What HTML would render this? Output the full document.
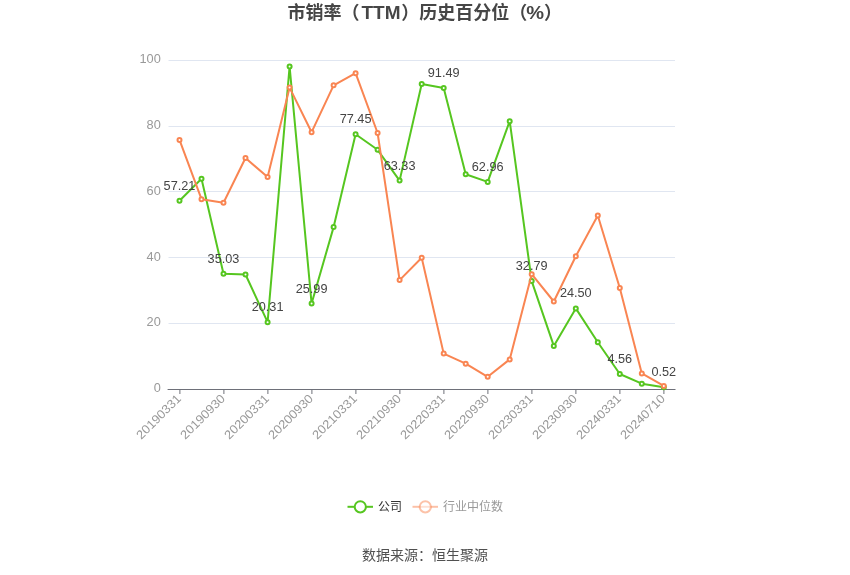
<!DOCTYPE html>
<html lang="zh"><head><meta charset="utf-8"><title>市销率（TTM）历史百分位（%）</title>
<style>
html,body{margin:0;padding:0;background:#fff;}
body{width:850px;height:575px;overflow:hidden;}
svg{display:block;}
text{font-family:"Liberation Sans","Noto Sans CJK SC",sans-serif;}
</style></head><body>
<svg width="850" height="575" viewBox="0 0 850 575">
<rect width="850" height="575" fill="#fff"/>
<text y="18.9" font-size="18" font-weight="bold" fill="#464646"><tspan x="287.6">市销率（</tspan><tspan x="361.5" textLength="39" lengthAdjust="spacingAndGlyphs">TTM</tspan><tspan x="401.3">）历史百分位（</tspan><tspan x="526.2" textLength="17.8" lengthAdjust="spacingAndGlyphs">%</tspan><tspan x="544">）</tspan></text>
<line x1="168.5" x2="675" y1="323.5" y2="323.5" stroke="#e0e6f1" stroke-width="1"/>
<line x1="168.5" x2="675" y1="257.5" y2="257.5" stroke="#e0e6f1" stroke-width="1"/>
<line x1="168.5" x2="675" y1="191.5" y2="191.5" stroke="#e0e6f1" stroke-width="1"/>
<line x1="168.5" x2="675" y1="126.5" y2="126.5" stroke="#e0e6f1" stroke-width="1"/>
<line x1="168.5" x2="675" y1="60.5" y2="60.5" stroke="#e0e6f1" stroke-width="1"/>
<text x="160.8" y="391.8" text-anchor="end" font-size="12" fill="#999" textLength="7.1" lengthAdjust="spacingAndGlyphs">0</text>
<text x="160.8" y="325.8" text-anchor="end" font-size="12" fill="#999" textLength="14.2" lengthAdjust="spacingAndGlyphs">20</text>
<text x="160.8" y="260.8" text-anchor="end" font-size="12" fill="#999" textLength="14.2" lengthAdjust="spacingAndGlyphs">40</text>
<text x="160.8" y="194.8" text-anchor="end" font-size="12" fill="#999" textLength="14.2" lengthAdjust="spacingAndGlyphs">60</text>
<text x="160.8" y="128.8" text-anchor="end" font-size="12" fill="#999" textLength="14.2" lengthAdjust="spacingAndGlyphs">80</text>
<text x="160.8" y="62.8" text-anchor="end" font-size="12" fill="#999" textLength="21.3" lengthAdjust="spacingAndGlyphs">100</text>
<line x1="167.6" x2="675.5" y1="389.5" y2="389.5" stroke="#6e7079" stroke-width="1"/>
<line x1="179.9" x2="179.9" y1="389.5" y2="394" stroke="#6e7079" stroke-width="1"/>
<text transform="translate(178.9,396.5) rotate(-45)" text-anchor="end" font-size="12.3" fill="#999" dy="4.1" textLength="57.3" lengthAdjust="spacingAndGlyphs">20190331</text>
<line x1="223.9" x2="223.9" y1="389.5" y2="394" stroke="#6e7079" stroke-width="1"/>
<text transform="translate(222.9,396.5) rotate(-45)" text-anchor="end" font-size="12.3" fill="#999" dy="4.1" textLength="57.3" lengthAdjust="spacingAndGlyphs">20190930</text>
<line x1="267.9" x2="267.9" y1="389.5" y2="394" stroke="#6e7079" stroke-width="1"/>
<text transform="translate(266.9,396.5) rotate(-45)" text-anchor="end" font-size="12.3" fill="#999" dy="4.1" textLength="57.3" lengthAdjust="spacingAndGlyphs">20200331</text>
<line x1="311.9" x2="311.9" y1="389.5" y2="394" stroke="#6e7079" stroke-width="1"/>
<text transform="translate(310.9,396.5) rotate(-45)" text-anchor="end" font-size="12.3" fill="#999" dy="4.1" textLength="57.3" lengthAdjust="spacingAndGlyphs">20200930</text>
<line x1="355.9" x2="355.9" y1="389.5" y2="394" stroke="#6e7079" stroke-width="1"/>
<text transform="translate(354.9,396.5) rotate(-45)" text-anchor="end" font-size="12.3" fill="#999" dy="4.1" textLength="57.3" lengthAdjust="spacingAndGlyphs">20210331</text>
<line x1="399.9" x2="399.9" y1="389.5" y2="394" stroke="#6e7079" stroke-width="1"/>
<text transform="translate(398.9,396.5) rotate(-45)" text-anchor="end" font-size="12.3" fill="#999" dy="4.1" textLength="57.3" lengthAdjust="spacingAndGlyphs">20210930</text>
<line x1="443.9" x2="443.9" y1="389.5" y2="394" stroke="#6e7079" stroke-width="1"/>
<text transform="translate(442.9,396.5) rotate(-45)" text-anchor="end" font-size="12.3" fill="#999" dy="4.1" textLength="57.3" lengthAdjust="spacingAndGlyphs">20220331</text>
<line x1="487.9" x2="487.9" y1="389.5" y2="394" stroke="#6e7079" stroke-width="1"/>
<text transform="translate(486.9,396.5) rotate(-45)" text-anchor="end" font-size="12.3" fill="#999" dy="4.1" textLength="57.3" lengthAdjust="spacingAndGlyphs">20220930</text>
<line x1="531.9" x2="531.9" y1="389.5" y2="394" stroke="#6e7079" stroke-width="1"/>
<text transform="translate(530.9,396.5) rotate(-45)" text-anchor="end" font-size="12.3" fill="#999" dy="4.1" textLength="57.3" lengthAdjust="spacingAndGlyphs">20230331</text>
<line x1="575.9" x2="575.9" y1="389.5" y2="394" stroke="#6e7079" stroke-width="1"/>
<text transform="translate(574.9,396.5) rotate(-45)" text-anchor="end" font-size="12.3" fill="#999" dy="4.1" textLength="57.3" lengthAdjust="spacingAndGlyphs">20230930</text>
<line x1="619.9" x2="619.9" y1="389.5" y2="394" stroke="#6e7079" stroke-width="1"/>
<text transform="translate(618.9,396.5) rotate(-45)" text-anchor="end" font-size="12.3" fill="#999" dy="4.1" textLength="57.3" lengthAdjust="spacingAndGlyphs">20240331</text>
<line x1="663.9" x2="663.9" y1="389.5" y2="394" stroke="#6e7079" stroke-width="1"/>
<text transform="translate(662.9,396.5) rotate(-45)" text-anchor="end" font-size="12.3" fill="#999" dy="4.1" textLength="57.3" lengthAdjust="spacingAndGlyphs">20240710</text>
<polyline points="179.5,200.8 201.5,178.8 223.5,273.8 245.5,274.5 267.6,322.2 289.6,66.6 311.6,303.5 333.6,227.1 355.6,134.2 377.6,149.8 399.6,180.6 421.7,84.0 443.7,88.0 465.7,174.2 487.7,181.9 509.7,121.2 531.7,281.1 553.8,345.9 575.8,308.4 597.8,342.3 619.8,374.0 641.8,383.7 663.8,387.3" fill="none" stroke="#56c620" stroke-width="2" stroke-linejoin="bevel"/>
<circle cx="179.5" cy="200.8" r="2" fill="#fff" stroke="#56c620" stroke-width="2"/>
<circle cx="201.5" cy="178.8" r="2" fill="#fff" stroke="#56c620" stroke-width="2"/>
<circle cx="223.5" cy="273.8" r="2" fill="#fff" stroke="#56c620" stroke-width="2"/>
<circle cx="245.5" cy="274.5" r="2" fill="#fff" stroke="#56c620" stroke-width="2"/>
<circle cx="267.6" cy="322.2" r="2" fill="#fff" stroke="#56c620" stroke-width="2"/>
<circle cx="289.6" cy="66.6" r="2" fill="#fff" stroke="#56c620" stroke-width="2"/>
<circle cx="311.6" cy="303.5" r="2" fill="#fff" stroke="#56c620" stroke-width="2"/>
<circle cx="333.6" cy="227.1" r="2" fill="#fff" stroke="#56c620" stroke-width="2"/>
<circle cx="355.6" cy="134.2" r="2" fill="#fff" stroke="#56c620" stroke-width="2"/>
<circle cx="377.6" cy="149.8" r="2" fill="#fff" stroke="#56c620" stroke-width="2"/>
<circle cx="399.6" cy="180.6" r="2" fill="#fff" stroke="#56c620" stroke-width="2"/>
<circle cx="421.7" cy="84.0" r="2" fill="#fff" stroke="#56c620" stroke-width="2"/>
<circle cx="443.7" cy="88.0" r="2" fill="#fff" stroke="#56c620" stroke-width="2"/>
<circle cx="465.7" cy="174.2" r="2" fill="#fff" stroke="#56c620" stroke-width="2"/>
<circle cx="487.7" cy="181.9" r="2" fill="#fff" stroke="#56c620" stroke-width="2"/>
<circle cx="509.7" cy="121.2" r="2" fill="#fff" stroke="#56c620" stroke-width="2"/>
<circle cx="531.7" cy="281.1" r="2" fill="#fff" stroke="#56c620" stroke-width="2"/>
<circle cx="553.8" cy="345.9" r="2" fill="#fff" stroke="#56c620" stroke-width="2"/>
<circle cx="575.8" cy="308.4" r="2" fill="#fff" stroke="#56c620" stroke-width="2"/>
<circle cx="597.8" cy="342.3" r="2" fill="#fff" stroke="#56c620" stroke-width="2"/>
<circle cx="619.8" cy="374.0" r="2" fill="#fff" stroke="#56c620" stroke-width="2"/>
<circle cx="641.8" cy="383.7" r="2" fill="#fff" stroke="#56c620" stroke-width="2"/>
<circle cx="663.8" cy="387.3" r="2" fill="#fff" stroke="#56c620" stroke-width="2"/>
<polyline points="179.5,139.9 201.5,199.2 223.5,202.8 245.5,158.0 267.6,177.1 289.6,87.6 311.6,132.2 333.6,85.3 355.6,73.2 377.6,133.0 399.6,280.1 421.7,257.7 443.7,353.6 465.7,363.7 487.7,376.8 509.7,359.4 531.7,274.2 553.8,301.5 575.8,256.2 597.8,215.5 619.8,288.0 641.8,373.4 663.8,385.9" fill="none" stroke="#f98552" stroke-width="2" stroke-linejoin="bevel"/>
<circle cx="179.5" cy="139.9" r="2" fill="#fff" stroke="#f98552" stroke-width="2"/>
<circle cx="201.5" cy="199.2" r="2" fill="#fff" stroke="#f98552" stroke-width="2"/>
<circle cx="223.5" cy="202.8" r="2" fill="#fff" stroke="#f98552" stroke-width="2"/>
<circle cx="245.5" cy="158.0" r="2" fill="#fff" stroke="#f98552" stroke-width="2"/>
<circle cx="267.6" cy="177.1" r="2" fill="#fff" stroke="#f98552" stroke-width="2"/>
<circle cx="289.6" cy="87.6" r="2" fill="#fff" stroke="#f98552" stroke-width="2"/>
<circle cx="311.6" cy="132.2" r="2" fill="#fff" stroke="#f98552" stroke-width="2"/>
<circle cx="333.6" cy="85.3" r="2" fill="#fff" stroke="#f98552" stroke-width="2"/>
<circle cx="355.6" cy="73.2" r="2" fill="#fff" stroke="#f98552" stroke-width="2"/>
<circle cx="377.6" cy="133.0" r="2" fill="#fff" stroke="#f98552" stroke-width="2"/>
<circle cx="399.6" cy="280.1" r="2" fill="#fff" stroke="#f98552" stroke-width="2"/>
<circle cx="421.7" cy="257.7" r="2" fill="#fff" stroke="#f98552" stroke-width="2"/>
<circle cx="443.7" cy="353.6" r="2" fill="#fff" stroke="#f98552" stroke-width="2"/>
<circle cx="465.7" cy="363.7" r="2" fill="#fff" stroke="#f98552" stroke-width="2"/>
<circle cx="487.7" cy="376.8" r="2" fill="#fff" stroke="#f98552" stroke-width="2"/>
<circle cx="509.7" cy="359.4" r="2" fill="#fff" stroke="#f98552" stroke-width="2"/>
<circle cx="531.7" cy="274.2" r="2" fill="#fff" stroke="#f98552" stroke-width="2"/>
<circle cx="553.8" cy="301.5" r="2" fill="#fff" stroke="#f98552" stroke-width="2"/>
<circle cx="575.8" cy="256.2" r="2" fill="#fff" stroke="#f98552" stroke-width="2"/>
<circle cx="597.8" cy="215.5" r="2" fill="#fff" stroke="#f98552" stroke-width="2"/>
<circle cx="619.8" cy="288.0" r="2" fill="#fff" stroke="#f98552" stroke-width="2"/>
<circle cx="641.8" cy="373.4" r="2" fill="#fff" stroke="#f98552" stroke-width="2"/>
<circle cx="663.8" cy="385.9" r="2" fill="#fff" stroke="#f98552" stroke-width="2"/>
<text x="179.5" y="189.8" text-anchor="middle" font-size="12" fill="#444" textLength="31.8" lengthAdjust="spacingAndGlyphs">57.21</text>
<text x="223.5" y="262.8" text-anchor="middle" font-size="12" fill="#444" textLength="31.8" lengthAdjust="spacingAndGlyphs">35.03</text>
<text x="267.6" y="311.2" text-anchor="middle" font-size="12" fill="#444" textLength="31.8" lengthAdjust="spacingAndGlyphs">20.31</text>
<text x="311.6" y="292.5" text-anchor="middle" font-size="12" fill="#444" textLength="31.8" lengthAdjust="spacingAndGlyphs">25.99</text>
<text x="355.6" y="123.2" text-anchor="middle" font-size="12" fill="#444" textLength="31.8" lengthAdjust="spacingAndGlyphs">77.45</text>
<text x="399.6" y="169.6" text-anchor="middle" font-size="12" fill="#444" textLength="31.8" lengthAdjust="spacingAndGlyphs">63.33</text>
<text x="443.7" y="77.0" text-anchor="middle" font-size="12" fill="#444" textLength="31.8" lengthAdjust="spacingAndGlyphs">91.49</text>
<text x="487.7" y="170.9" text-anchor="middle" font-size="12" fill="#444" textLength="31.8" lengthAdjust="spacingAndGlyphs">62.96</text>
<text x="531.7" y="270.1" text-anchor="middle" font-size="12" fill="#444" textLength="31.8" lengthAdjust="spacingAndGlyphs">32.79</text>
<text x="575.8" y="297.4" text-anchor="middle" font-size="12" fill="#444" textLength="31.8" lengthAdjust="spacingAndGlyphs">24.50</text>
<text x="619.8" y="363.0" text-anchor="middle" font-size="12" fill="#444" textLength="24.7" lengthAdjust="spacingAndGlyphs">4.56</text>
<text x="663.8" y="376.3" text-anchor="middle" font-size="12" fill="#444" textLength="24.7" lengthAdjust="spacingAndGlyphs">0.52</text>
<g><line x1="347.5" x2="373" y1="506.8" y2="506.8" stroke="#56c620" stroke-width="2"/><circle cx="360.3" cy="506.8" r="5.6" fill="#fff" stroke="#56c620" stroke-width="2"/><text x="378" y="511" font-size="12" fill="#333">公司</text></g>
<g><line x1="412.5" x2="438" y1="506.8" y2="506.8" stroke="#f98552" stroke-width="2" opacity="0.5"/><circle cx="425.3" cy="506.8" r="5.6" fill="#fff" fill-opacity="0.5" stroke="#f98552" stroke-opacity="0.5" stroke-width="2"/></g><text x="443" y="511" font-size="12" fill="#999">行业中位数</text>
<text x="425" y="560" text-anchor="middle" font-size="14" fill="#505050">数据来源：恒生聚源</text>
</svg></body></html>
